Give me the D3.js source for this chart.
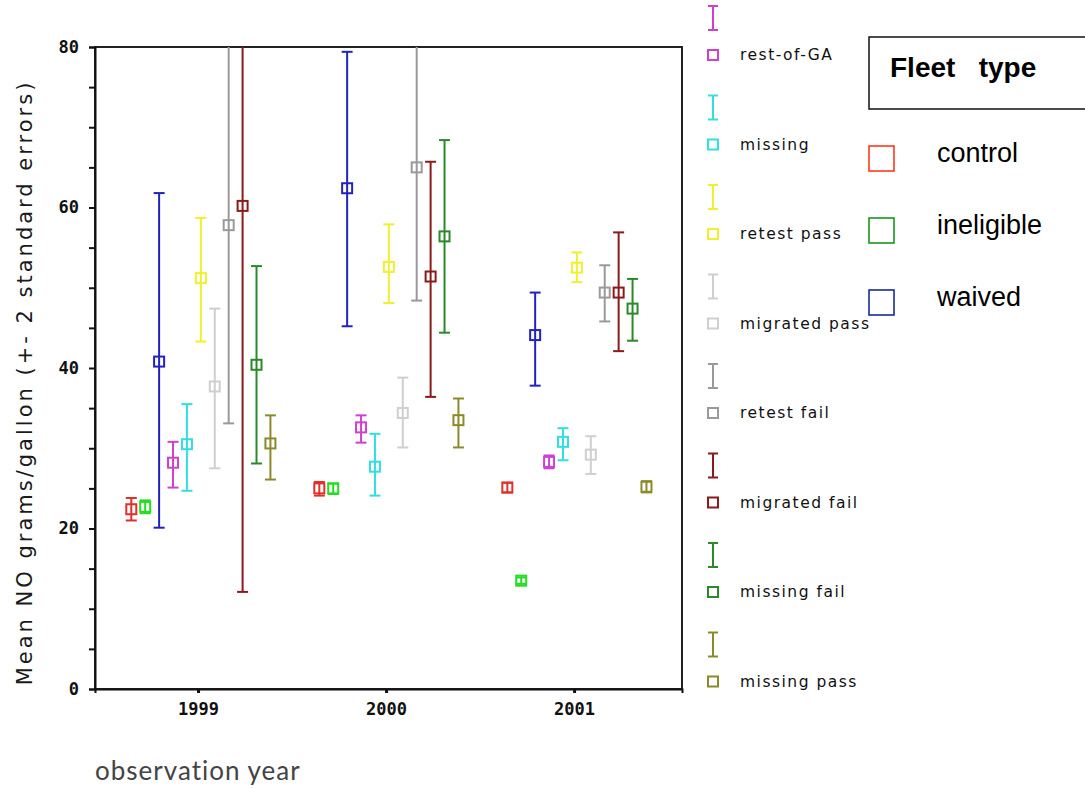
<!DOCTYPE html>
<html><head><meta charset="utf-8">
<script src="https://cdn.jsdelivr.net/npm/d3@7"></script>
<style>body{margin:0;background:#fff}svg{display:block}</style>
</head><body>
<svg id="chart" width="1085" height="788"></svg>
<script>
// ---- data ----
const years = [1999, 2000, 2001];
const yearLabels = ["1999", "2000", "2001"];
const seriesNames = ["control","ineligible","waived","rest-of-GA","missing","retest pass","migrated pass","retest fail","migrated fail","missing fail","missing pass"];
const seriesColors = ["#e0302a","#22dd22","#2222c0","#d040d0","#30e0e0","#f0f030","#cfcfcf","#9a9a9a","#8b1a1a","#2a8a2a","#8a8a2a"];
const mean1999  = [22.4, 22.7, 40.8, 28.2, 30.5, 51.2, 37.7, 57.8, 60.2, 40.4, 30.6];
const lower1999 = [21.0, 21.9, 20.1, 25.1, 24.7, 43.3, 27.5, 33.1, 12.1, 28.1, 26.1];
const upper1999 = [23.8, 23.5, 61.8, 30.8, 35.5, 58.7, 47.4, 82.5, 108.3, 52.7, 34.1];
const mean2000  = [25.0, 25.0, 62.4, 32.6, 27.7, 52.6, 34.4, 65.0, 51.4, 56.4, 33.5];
const lower2000 = [24.1, 24.3, 45.2, 30.7, 24.1, 48.1, 30.1, 48.4, 36.4, 44.4, 30.1];
const upper2000 = [25.8, 25.6, 79.4, 34.1, 31.8, 57.9, 38.8, 81.6, 65.7, 68.4, 36.2];
const mean2001  = [25.1, 13.5, 44.1, 28.3, 30.8, 52.5, 29.2, 49.4, 49.4, 47.4, 25.2];
const lower2001 = [24.5, 13.1, 37.8, 27.5, 28.5, 50.7, 26.8, 45.8, 42.1, 43.4, 24.5];
const upper2001 = [25.7, 13.9, 49.4, 29.1, 32.5, 54.4, 31.5, 52.8, 56.9, 51.1, 25.9];
const yTickValues = [0, 20, 40, 60, 80];
const fleetNames = ["control", "ineligible", "waived"];
const fleetColors = ["#ff3a1a", "#1a961a", "#1a2aa0"];
const otherLegend = seriesNames.slice(3);
const otherColors = seriesColors.slice(3);

const means = [mean1999, mean2000, mean2001];
const lowers = [lower1999, lower2000, lower2001];
const uppers = [upper1999, upper2000, upper2001];

const rows = [];
years.forEach((yr, yi) => {
  seriesNames.forEach((s, si) => {
    rows.push({year: yr, idx: si, name: s, color: seriesColors[si],
      mean: means[yi][si], lo: lowers[yi][si], hi: uppers[yi][si]});
  });
});

// ---- layout ----
const svg = d3.select("#chart");
const L = 95, R = 682, T = 47, B = 689;
const x = d3.scaleLinear().domain([1998.452, 2001.574]).range([L, R]);
const off = d3.scaleLinear().domain([0, seriesNames.length - 1]).range([-0.355, 0.385]);
const y = d3.scaleLinear().domain([0, 80]).range([B, T]);

svg.append("defs").append("clipPath").attr("id", "plotclip")
  .append("rect").attr("x", L).attr("y", T).attr("width", R - L).attr("height", B - T);

// frame
svg.append("rect").attr("x", L).attr("y", T).attr("width", R - L).attr("height", B - T)
  .attr("fill", "none").attr("stroke", "#222").attr("stroke-width", 2);

// y axis
const yAxis = d3.axisLeft(y).tickValues(d3.range(0, 81, 5)).tickSize(6)
  .tickFormat(d => yTickValues.includes(d) ? String(d) : "");
const gy = svg.append("g").attr("transform", `translate(${L},0)`).call(yAxis);
gy.select(".domain").attr("stroke", "#111").attr("stroke-width", 2);
gy.selectAll(".tick line").attr("stroke", "#111").attr("stroke-width", 2);
gy.selectAll(".tick text").attr("font-family", "DejaVu Sans Mono, monospace").attr("font-weight", "bold")
  .attr("font-size", 17).attr("fill", "#111").attr("x", -16);

// x axis
const xAxis = d3.axisBottom(x).tickValues(years).tickSize(4).tickFormat((d, i) => yearLabels[i]);
const gx = svg.append("g").attr("transform", `translate(0,${B})`).call(xAxis);
gx.select(".domain").attr("stroke", "#111").attr("stroke-width", 2);
gx.selectAll(".tick line").attr("stroke", "#111").attr("stroke-width", 3);
gx.selectAll(".tick text").attr("font-family", "DejaVu Sans Mono, monospace").attr("font-weight", "bold")
  .attr("font-size", 17).attr("fill", "#111").attr("dy", "1.1em");

// axis titles
svg.append("text").attr("transform", `translate(32,${(685 + 80) / 2}) rotate(-90)`)
  .attr("text-anchor", "middle").attr("font-family", "DejaVu Sans, sans-serif")
  .attr("font-size", 21).attr("fill", "#1a1a1a").attr("letter-spacing", 3)
  .text("Mean NO grams/gallon (+- 2 standard errors)");
svg.append("text").attr("x", 95).attr("y", 780)
  .attr("font-family", "Lato, sans-serif").attr("font-size", 26).attr("fill", "#444")
  .attr("letter-spacing", 1).text("observation year");

// error bars
const plot = svg.append("g").attr("clip-path", "url(#plotclip)");
const cap = 5.5, half = 5;
const g = plot.selectAll("g.bar").data(rows).join("g").attr("class", "bar")
  .attr("transform", d => `translate(${x(d.year + off(d.idx))},0)`)
  .attr("stroke", d => d.color).attr("fill", "none").attr("stroke-width", 2);
g.append("line").attr("x1", 0).attr("x2", 0).attr("y1", d => y(d.lo)).attr("y2", d => y(d.hi));
g.append("line").attr("x1", -cap).attr("x2", cap).attr("y1", d => y(d.lo)).attr("y2", d => y(d.lo));
g.filter(d => d.hi <= 80).append("line").attr("x1", -cap).attr("x2", cap).attr("y1", d => y(d.hi)).attr("y2", d => y(d.hi));
g.append("rect").attr("x", -half).attr("y", d => y(d.mean) - half).attr("width", 2 * half).attr("height", 2 * half);

// series legend (right of plot)
const lg = svg.append("g");
const step = 89.5, first = 55;
otherLegend.forEach((name, i) => {
  const cy = first + i * step;
  const c = otherColors[i];
  const it = lg.append("g").attr("stroke", c).attr("stroke-width", 2).attr("fill", "none");
  it.append("line").attr("x1", 713).attr("x2", 713).attr("y1", cy - 49).attr("y2", cy - 25);
  it.append("line").attr("x1", 708).attr("x2", 718).attr("y1", cy - 49).attr("y2", cy - 49);
  it.append("line").attr("x1", 708).attr("x2", 718).attr("y1", cy - 25).attr("y2", cy - 25);
  it.append("rect").attr("x", 708).attr("y", cy - 5).attr("width", 10).attr("height", 10);
  lg.append("text").attr("x", 740).attr("y", cy + 5).attr("font-family", "DejaVu Sans, sans-serif")
    .attr("font-size", 15.5).attr("letter-spacing", 1.5).attr("fill", "#111").text(name);
});

// fleet type legend
svg.append("rect").attr("x", 869).attr("y", 37).attr("width", 230).attr("height", 72)
  .attr("fill", "none").attr("stroke", "#111").attr("stroke-width", 1.5);
svg.append("text").attr("x", 890).attr("y", 77).attr("font-family", "Liberation Sans, Arial, sans-serif")
  .attr("font-weight", "bold").attr("font-size", 28).attr("fill", "#000")
  .attr("xml:space", "preserve").style("white-space", "pre").text("Fleet   type");
fleetNames.forEach((n, i) => {
  const top = 146 + i * 72;
  svg.append("rect").attr("x", 869).attr("y", top).attr("width", 25).attr("height", 25)
    .attr("fill", "none").attr("stroke", fleetColors[i]).attr("stroke-width", 1.6);
  svg.append("text").attr("x", 937).attr("y", top + 16).attr("font-family", "Liberation Sans, Arial, sans-serif")
    .attr("font-size", 27).attr("fill", "#000").text(n);
});
</script>
</body></html>
